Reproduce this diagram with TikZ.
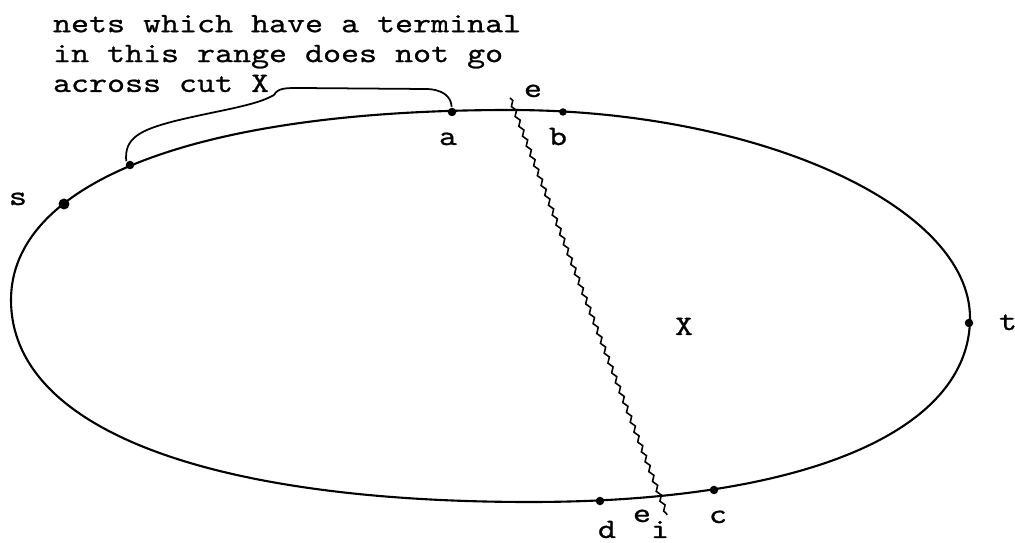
\documentclass[tikz,border=0pt]{standalone}
\usepackage{fontspec}
\newfontfamily\typewriter{lmmono10-regular.otf}[FakeStretch=1.22, FakeBold=0.8]
\usetikzlibrary{decorations.pathmorphing}

\begin{document}
\begin{tikzpicture}[x=0.02cm, y=-0.02cm, line width=1.2pt,
    dot/.style={circle, fill, inner sep=0pt, minimum size=0.17cm},
    lbl/.style={anchor=base, inner sep=0pt, font=\typewriter\fontsize{16}{17}\selectfont}]
  \useasboundingbox (0,0) rectangle (1015,543);
  \draw (11,300) .. controls (11,186) and (186,110) .. (510,110)
    .. controls (758,110) and (970,206) .. (970,318)
    .. controls (970,432) and (803,502) .. (530,502)
    .. controls (203,502) and (11,427) .. cycle;
  \node[lbl, anchor=north west, align=left] (note) at (52,14) {nets which have a terminal\\in this range does not go\\across cut X};
  \node[dot, minimum size=0.22cm] (s) at (64,204) {};
  \node[dot] (r) at (130,165) {};
  \node[dot] (a) at (452,112) {};
  \node[dot, minimum size=0.15cm] (b) at (563,112) {};
  \node[dot] (t) at (969,323) {};
  \node[dot] (c) at (714,490) {};
  \node[dot] (d) at (600,501) {};
  \node[lbl] (slbl) at (18,205) {s};
  \node[lbl] (albl) at (448,145) {a};
  \node[lbl] (blbl) at (558,145) {b};
  \node[lbl] (etop) at (533,97) {e};
  \node[lbl] (tlbl) at (1008,330) {t};
  \node[lbl] (xlbl) at (684,335) {X};
  \node[lbl] (clbl) at (718,523) {c};
  \node[lbl] (dlbl) at (607,538) {d};
  \node[lbl] (ebot) at (642,522) {e};
  \node[lbl] (ilbl) at (660,538) {i};
  \coordinate (cuttop) at (510,98);
  \coordinate (cutbot) at (667,515);
  \draw[line width=0.9pt, decorate, decoration={snake, amplitude=1pt, segment length=6pt}] (cuttop) -- (cutbot);
  \coordinate (tip) at (274,95);
  \draw[line width=1pt] (r.north west) .. controls (124,138) and (140,130) .. (175,121) .. controls (220,110) and (255,106) .. (tip) .. controls (278,88) and (285,88) .. (300,88) -- (425,89) .. controls (442,89) and (451,96) .. (a);
\end{tikzpicture}
\end{document}
